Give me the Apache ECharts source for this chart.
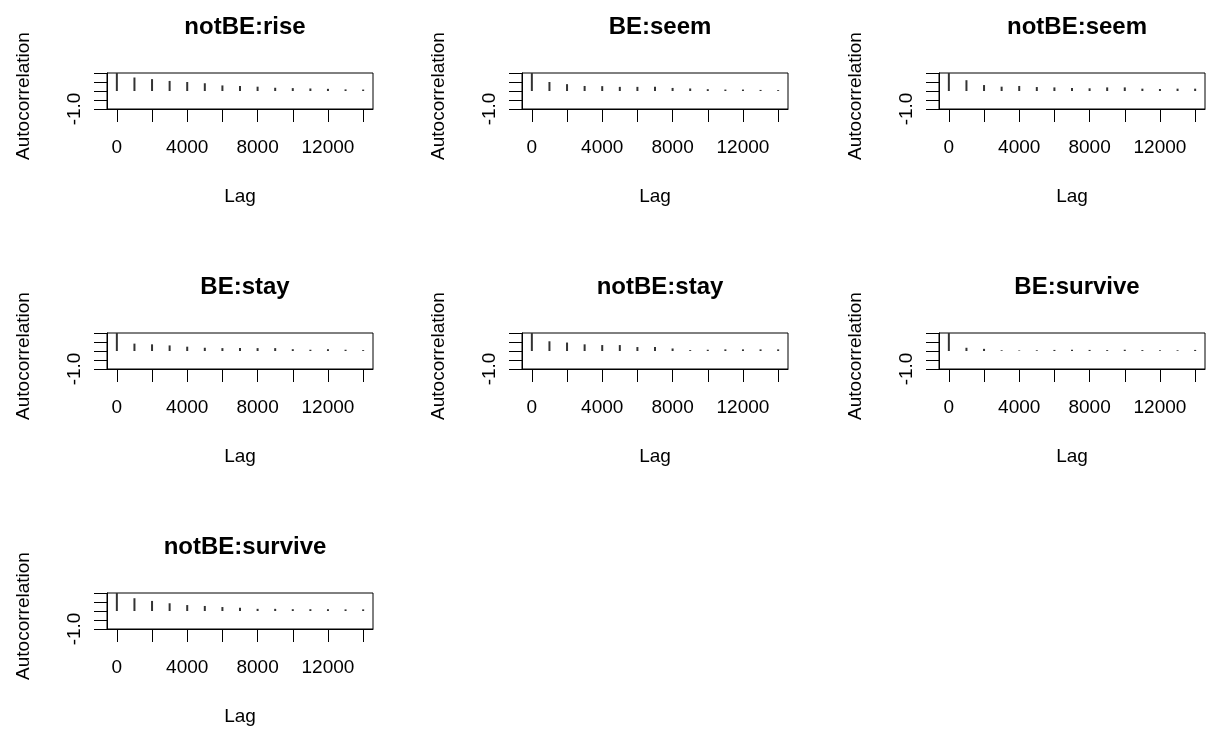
<!DOCTYPE html>
<html>
<head>
<meta charset="utf-8">
<script src="https://cdn.jsdelivr.net/npm/echarts@6/dist/echarts.min.js"></script>
<style>
html,body{margin:0;padding:0;background:#fff;}
#chart{width:1207px;height:732px;}
</style>
</head>
<body>
<div id="chart"></div>
<script>
// Lags (x values) and tick labels
const lags = [0,1000,2000,3000,4000,5000,6000,7000,8000,9000,10000,11000,12000,13000,14000];
const xTickValues = [0,2000,4000,6000,8000,10000,12000,14000];
const xLabelValues = [0,4000,8000,12000];
const yTickValues = [-1,-0.5,0,0.5,1];
const yLabelValues = [-1];

const panelTitles = ['notBE:rise','BE:seem','notBE:seem','BE:stay','notBE:stay','BE:survive','notBE:survive'];

// Autocorrelation values per panel
const acfNotBERise    = [1.00,0.75,0.66,0.56,0.50,0.43,0.31,0.28,0.24,0.18,0.16,0.14,0.12,0.09,0.08];
const acfBESeem       = [1.00,0.50,0.38,0.28,0.27,0.23,0.23,0.23,0.17,0.14,0.10,0.08,0.08,0.06,0.05];
const acfNotBESeem    = [1.00,0.60,0.33,0.24,0.28,0.22,0.20,0.17,0.15,0.20,0.20,0.13,0.11,0.13,0.13];
const acfBEStay       = [1.00,0.41,0.37,0.31,0.24,0.18,0.16,0.16,0.16,0.16,0.10,0.07,0.10,0.07,0.05];
const acfNotBEStay    = [1.00,0.54,0.47,0.37,0.33,0.33,0.22,0.22,0.14,0.05,0.07,0.09,0.09,0.09,0.09];
const acfBESurvive    = [1.00,0.18,0.12,0.04,0.03,0.04,0.06,0.07,0.06,0.05,0.07,0.05,0.04,0.04,0.06];
const acfNotBESurvive = [1.00,0.71,0.56,0.43,0.33,0.28,0.22,0.18,0.12,0.12,0.10,0.10,0.10,0.09,0.09];

const panelValues = [acfNotBERise, acfBESeem, acfNotBESeem, acfBEStay, acfNotBEStay, acfBESurvive, acfNotBESurvive];

// Layout
const colLeft = [107, 522, 939];
const rowTop = [73, 333, 593];
const boxW = 266, boxH = 36;
const FONT = 'Liberation Sans, Arial, Helvetica, sans-serif';

const grids = [], xAxes = [], yAxes = [], series = [], titles = [];
panelTitles.forEach((t, i) => {
  const r = Math.floor(i / 3), c = i % 3;
  const left = colLeft[c], top = rowTop[r];
  grids.push({left: left, top: top, width: boxW, height: boxH, show: true,
    borderColor: '#000', borderWidth: 1, backgroundColor: 'transparent'});
  titles.push({text: t, left: left + boxW / 2, top: top - 63, textAlign: 'center',
    textStyle: {fontFamily: FONT, fontSize: 24, fontWeight: 'bold', color: '#000'}});
  xAxes.push({type: 'value', gridIndex: i, min: -560, max: 14560,
    name: 'Lag', nameLocation: 'middle', nameGap: 78,
    nameTextStyle: {fontFamily: FONT, fontSize: 19, color: '#000'},
    axisLine: {show: true, onZero: false, lineStyle: {color: '#000', width: 1}},
    axisTick: {show: true, length: 13, lineStyle: {color: '#000'}, customValues: xTickValues},
    axisLabel: {show: true, fontFamily: FONT, fontSize: 19, color: '#000', margin: 29,
      customValues: xLabelValues, formatter: v => String(v)},
    splitLine: {show: false}});
  yAxes.push({type: 'value', gridIndex: i, min: -1, max: 1,
    name: 'Autocorrelation', nameLocation: 'middle', nameGap: 74, nameRotate: 90,
    nameTextStyle: {fontFamily: FONT, fontSize: 19, color: '#000', padding: [0, 10, 0, 0]},
    axisLine: {show: true, onZero: false, lineStyle: {color: '#000', width: 1}},
    axisTick: {show: true, length: 13, lineStyle: {color: '#000'}, customValues: yTickValues},
    axisLabel: {show: true, rotate: 90, fontFamily: FONT, fontSize: 19, color: '#000', margin: 23,
      customValues: yLabelValues, formatter: v => v.toFixed(1)},
    splitLine: {show: false}});
  series.push({type: 'bar', xAxisIndex: i, yAxisIndex: i, barWidth: 2,
    itemStyle: {color: '#333'}, silent: true, animation: false,
    data: lags.map((l, k) => [l, panelValues[i][k]])});
});

const chart = echarts.init(document.getElementById('chart'), null, {renderer: 'canvas'});
chart.setOption({
  backgroundColor: '#fff',
  animation: false,
  title: titles,
  grid: grids,
  xAxis: xAxes,
  yAxis: yAxes,
  series: series
});
</script>
</body>
</html>
